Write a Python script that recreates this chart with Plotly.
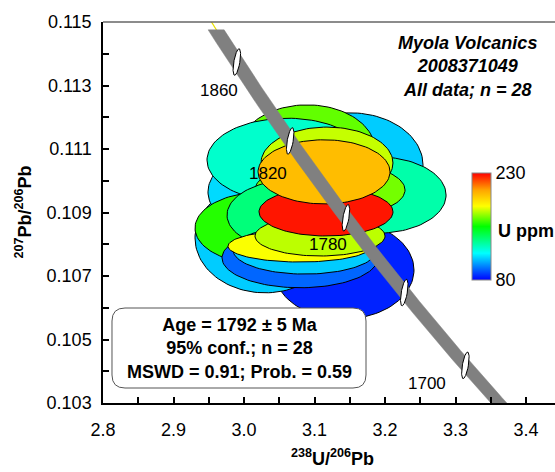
import numpy as np
import plotly.graph_objects as go

# ---------------- data ----------------
# error ellipses (drawing order), centre, semi-axes, U ppm
ell_x = [3.1418, 3.1504, 3.0298, 3.0369, 3.0894, 3.0610, 3.1901, 3.1177, 3.1220,
         3.0255, 3.0752, 3.0794, 3.0865, 3.0794, 3.1078, 3.1163, 3.1135]
ell_y = [0.10719, 0.11050, 0.10820, 0.10965, 0.11097, 0.11065, 0.10955, 0.11056, 0.10971,
         0.10851, 0.10892, 0.10757, 0.10782, 0.10794, 0.10826, 0.10902, 0.11028]
ell_sx = [0.0993, 0.1035, 0.0993, 0.0880, 0.0965, 0.1135, 0.0965, 0.0936, 0.1064,
          0.0950, 0.0993, 0.1106, 0.1021, 0.1021, 0.0922, 0.0950, 0.0936]
ell_sy = [0.00154, 0.00164, 0.00173, 0.00126, 0.00142, 0.00132, 0.00120, 0.00113, 0.00088,
          0.00113, 0.00113, 0.00094, 0.00076, 0.00050, 0.00063, 0.00076, 0.00101]
ell_u = [85, 110, 110, 112, 166, 125, 130, 177, 168,
         159, 137, 95, 110, 183, 176, 227, 200]

# concordia age markers (Ma) and labels
marker_ages = [1860, 1820, 1780, 1740, 1700]
label_text = ["1860", "1820", "1780", "1700"]
label_x = [2.9645, 3.0340, 3.1191, 3.2596]
label_y = [0.11283, 0.11024, 0.10798, 0.10363]
band_age_min, band_age_max = 1676, 1876

x_ticks = [round(2.8 + 0.05 * i, 2) for i in range(13)]
x_ticktext = [f"{v:.1f}" if i % 2 == 0 else "" for i, v in enumerate(x_ticks)]
y_ticks = [round(0.103 + 0.001 * i, 3) for i in range(13)]
y_ticktext = [f"{v:.3f}" if i % 2 == 0 else "" for i, v in enumerate(y_ticks)]

u_min, u_max = 80, 230
colorscale = [[0.0, "#0000ff"], [0.25, "#00ffff"], [0.5, "#00ff00"],
              [0.69, "#ffff00"], [0.84, "#ffa500"], [1.0, "#ff0000"]]

# ---------------- layout constants ----------------
W, H = 555, 472
L, R, T, B = 103, 0, 22, 69
XMIN, XMAX = 2.8, 3.4411
YMIN, YMAX = 0.103, 0.115
PW, PH = W - L - R, H - T - B
XPX = PW / (XMAX - XMIN)
YPX = PH / (YMAX - YMIN)
FONT = "Liberation Sans, Arial, sans-serif"

LAM238, LAM235 = 1.55125e-10, 9.8485e-10


def concordia(t_ma):
    t = np.asarray(t_ma) * 1e6
    r206 = np.exp(LAM238 * t) - 1
    r207 = np.exp(LAM235 * t) - 1
    return 1 / r206, r207 / r206 / 137.88


def hex2rgb(h):
    h = h.lstrip("#")
    return [int(h[i:i + 2], 16) for i in (0, 2, 4)]


def ucolor(u):
    t = (u - u_min) / (u_max - u_min)
    t = min(max(t, 0), 1)
    for (t0, c0), (t1, c1) in zip(colorscale[:-1], colorscale[1:]):
        if t0 <= t <= t1:
            f = (t - t0) / (t1 - t0) if t1 > t0 else 0
            a, b = hex2rgb(c0), hex2rgb(c1)
            rgb = [round(a[k] + f * (b[k] - a[k])) for k in range(3)]
            return f"rgb({rgb[0]},{rgb[1]},{rgb[2]})"
    return colorscale[-1][1]


fig = go.Figure()

phi = np.linspace(0, 2 * np.pi, 121)
for cx, cy, sx, sy, u in zip(ell_x, ell_y, ell_sx, ell_sy, ell_u):
    fig.add_trace(go.Scatter(
        x=cx + sx * np.cos(phi), y=cy + sy * np.sin(phi),
        mode="lines", fill="toself", fillcolor=ucolor(u),
        line=dict(color="black", width=1), hoverinfo="skip", showlegend=False))

# yellow concordia line
tc = np.linspace(1640, 1910, 200)
cxs, cys = concordia(tc)
fig.add_trace(go.Scatter(x=cxs, y=cys, mode="lines", line=dict(color="#e8e000", width=1.2),
                         hoverinfo="skip", showlegend=False))

# gray band
tb = np.linspace(band_age_min, band_age_max, 200)
bx, by = concordia(tb)
dxb = 8.0 / XPX
px_ = np.concatenate([bx - dxb, (bx + dxb)[::-1]])
py_ = np.concatenate([by, by[::-1]])
fig.add_trace(go.Scatter(x=px_, y=py_, mode="lines", fill="toself", fillcolor="#808080",
                         line=dict(color="#808080", width=0.5), hoverinfo="skip", showlegend=False))

# age markers
mx, my = concordia(marker_ages)
alpha = np.deg2rad(10)
for x0, y0 in zip(mx, my):
    u = 3.0 * np.cos(phi)
    v = 13.5 * np.sin(phi)
    xr = u * np.cos(alpha) + v * np.sin(alpha)
    yr = -u * np.sin(alpha) + v * np.cos(alpha)
    fig.add_trace(go.Scatter(x=x0 + xr / XPX, y=y0 + yr / YPX, mode="lines", fill="toself",
                             fillcolor="white", line=dict(color="black", width=1),
                             hoverinfo="skip", showlegend=False))

# colorbar via dummy trace
cbar = dict(x=(472 - L) / PW, xanchor="left", xpad=0, ypad=0,
            y=(H - B - 226.5) / PH, yanchor="middle",
            len=107, lenmode="pixels", thickness=19, thicknessmode="pixels",
            outlinecolor="#888888", outlinewidth=1,
            tickvals=[u_min, u_max], ticktext=[str(u_min), str(u_max)],
            ticks="", tickfont=dict(family=FONT, size=18, color="black"))
fig.add_trace(go.Scatter(
    x=[0], y=[0], mode="markers", hoverinfo="skip", showlegend=False,
    marker=dict(color=[u_min], cmin=u_min, cmax=u_max, colorscale=colorscale,
                showscale=True, colorbar=cbar)))

ann = []
for t_, x_, y_ in zip(label_text, label_x, label_y):
    ann.append(dict(x=x_, y=y_, xref="x", yref="y", text=t_, showarrow=False,
                    font=dict(family=FONT, size=17, color="black")))


def paper(px, py):
    return (px - L) / PW, (H - B - py) / PH


ann.append(dict(x=paper(496, 0)[0], y=paper(0, 231)[1], xref="paper", yref="paper",
                text="<b>U ppm</b>", showarrow=False, xanchor="left", yanchor="middle",
                font=dict(family=FONT, size=18, color="black")))
ann.append(dict(x=paper(467, 0)[0], y=paper(0, 66.5)[1], xref="paper", yref="paper",
                text="<b><i>Myola Volcanics<br>2008371049<br>All data; n = 28</i></b>",
                showarrow=False, xanchor="center", yanchor="middle", align="center",
                font=dict(family=FONT, size=18, color="black")))
ann.append(dict(x=paper(239, 0)[0], y=paper(0, 348)[1], xref="paper", yref="paper",
                text="<b>Age = 1792 ± 5 Ma<br>95% conf.; n = 28<br>MSWD = 0.91; Prob. = 0.59</b>",
                showarrow=False, xanchor="center", yanchor="middle", align="center",
                font=dict(family=FONT, size=18, color="black")))
ann.append(dict(x=paper(24, 0)[0], y=0.5, xref="paper", yref="paper",
                text="<b><sup>207</sup>Pb/<sup>206</sup>Pb</b>", textangle=-90,
                showarrow=False, xanchor="center", yanchor="middle",
                font=dict(family=FONT, size=18, color="black")))
ann.append(dict(x=paper(332, 0)[0], y=paper(0, 471)[1], xref="paper", yref="paper",
                text="<b><sup>238</sup>U/<sup>206</sup>Pb</b>",
                showarrow=False, xanchor="center", yanchor="bottom",
                font=dict(family=FONT, size=18, color="black")))

# rounded box path in paper coords
bx0, by0, bx1, by1, rr = 112, 308, 366, 388, 13


def P(px, py):
    a, b = paper(px, py)
    return f"{a:.5f},{b:.5f}"


path = (f"M {P(bx0 + rr, by0)} L {P(bx1 - rr, by0)} Q {P(bx1, by0)} {P(bx1, by0 + rr)} "
        f"L {P(bx1, by1 - rr)} Q {P(bx1, by1)} {P(bx1 - rr, by1)} "
        f"L {P(bx0 + rr, by1)} Q {P(bx0, by1)} {P(bx0, by1 - rr)} "
        f"L {P(bx0, by0 + rr)} Q {P(bx0, by0)} {P(bx0 + rr, by0)} Z")

shapes = [
    dict(type="path", path=path, xref="paper", yref="paper", fillcolor="white",
         line=dict(color="#555555", width=1), layer="above"),
    dict(type="line", x0=0, x1=1, y0=1, y1=1, xref="paper", yref="paper",
         line=dict(color="#666666", width=1.5), layer="above"),
]

fig.update_layout(
    width=W, height=H, margin=dict(l=L, r=R, t=T, b=B, autoexpand=False),
    paper_bgcolor="white", plot_bgcolor="white",
    annotations=ann, shapes=shapes, showlegend=False,
    font=dict(family=FONT, size=18, color="black"),
    xaxis=dict(range=[XMIN, XMAX], tickvals=x_ticks, ticktext=x_ticktext,
               ticks="inside", ticklen=6, tickwidth=1.5, tickcolor="black",
               showline=True, linecolor="black", linewidth=1.5, showgrid=False, zeroline=False,
               tickfont=dict(family=FONT, size=18, color="black"), ticklabelstandoff=10),
    yaxis=dict(range=[YMIN, YMAX], tickvals=y_ticks, ticktext=y_ticktext,
               ticks="inside", ticklen=6, tickwidth=1.5, tickcolor="black",
               showline=True, linecolor="black", linewidth=1.5, showgrid=False, zeroline=False,
               tickfont=dict(family=FONT, size=18, color="black"), ticklabelstandoff=6),
)

fig.write_html("out.html")
